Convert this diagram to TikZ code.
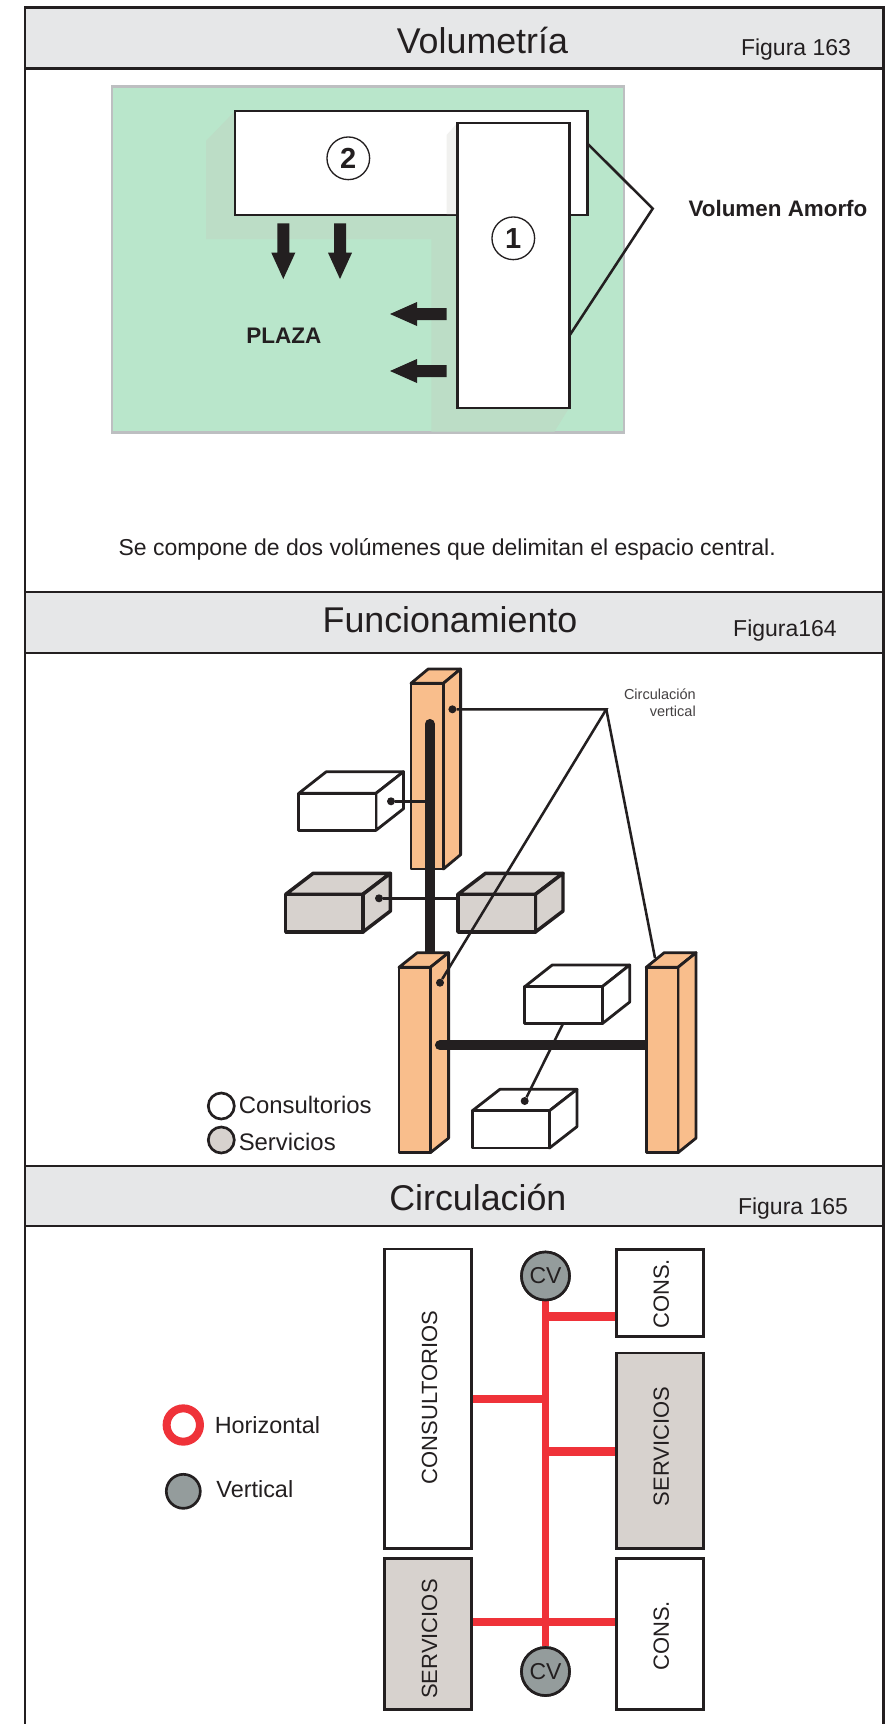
\documentclass[tikz,border=0pt]{standalone}
\usepackage{fontspec}
\setmainfont{Liberation Sans}
\definecolor{ink}{HTML}{231F20}
\definecolor{headfill}{HTML}{E6E7E8}
\definecolor{plaza}{HTML}{B9E6CB}
\definecolor{plazaedge}{HTML}{BDBFC1}
\definecolor{plazashadow}{HTML}{BCDDC6}
\definecolor{softshadow}{HTML}{F1F1EF}
\definecolor{column}{HTML}{F9BE8C}
\definecolor{service}{HTML}{D7D2CE}
\definecolor{redline}{HTML}{EF3239}
\definecolor{cvgray}{HTML}{949C9C}
\newcommand{\pxf}[1]{\pgfmathsetmacro\fsz{#1*0.75}\fontsize{\fsz}{\fsz}\selectfont}
% name,x1,y1,x2,y2,style,text
\newcommand{\pxbox}[7]{\node[#6,minimum width={(#4-#2)*.75pt},minimum height={(#5-#3)*.75pt}] (#1) at ({(#2+#4)/2},{(#3+#5)/2}) {#7};}
% name,x1,y1,x2,y2,xright,ytop,fill
\newcommand{\cube}[8]{%
  \draw[cubeline,fill=#8] (#2,#3)--({#2+#6-#4},#7)--(#6,#7)--(#4,#3)--cycle;
  \draw[cubeline,fill=#8] (#4,#3)--(#6,#7)--(#6,{#5-#3+#7})--(#4,#5)--cycle;
  \pxbox{#1}{#2}{#3}{#4}{#5}{cubeline,inner sep=0pt,fill=#8}{}}
\tikzset{
  txt/.style={text=ink,inner sep=0pt,align=center},
  frameline/.style={draw=ink,line width=2.2pt},
  headbox/.style={fill=headfill,draw=ink,line width=2.2pt,inner sep=0pt},
  plainbox/.style={fill=white,draw=ink,line width=2.2pt,inner sep=0pt},
  servbox/.style={fill=service,draw=ink,line width=2.2pt,inner sep=0pt},
  cubeline/.style={draw=ink,line width=2.1pt,line join=round},
  thin link/.style={draw=ink,line width=1.9pt},
  thick link/.style={draw=ink,line width=7.6pt},
  dotnode/.style={circle,fill=ink,inner sep=0pt,minimum size=6pt},
  redlink/.style={draw=redline,line width=6.2pt},
  redmain/.style={draw=redline,line width=5.5pt},
  numcirc/.style={circle,draw=ink,fill=white,line width=1pt,inner sep=0pt,minimum size=32pt,text=ink,font=\pxf{29}\bfseries},
  cvnode/.style={circle,draw=ink,fill=cvgray,line width=2pt,inner sep=0pt,minimum size=36pt,text=ink,font=\pxf{23}},
  blockarrow/.style={fill=ink,draw=none},
}
\begin{document}
\begin{tikzpicture}[x=0.75pt,y=-0.75pt]
\useasboundingbox (0,0) rectangle (890,1724);
\fill[white] (0,0) rectangle (890,1724);
% headers
\pxbox{headA}{25}{7.5}{883.3}{68.3}{headbox}{}
\pxbox{headB}{25}{592}{883.3}{653}{headbox}{}
\pxbox{headC}{25}{1166}{883.3}{1226}{headbox}{}
\draw[frameline] (25,7.5) -- (25,1724);
\draw[frameline] (883.3,7.5) -- (883.3,1724);
\node[txt,font=\pxf{35.8}] (titleA) at (482.4,40) {Volumetría};
\node[txt,font=\pxf{23}] (figA) at (796,49.6) {Figura 163};
\node[txt,font=\pxf{35.8}] (titleB) at (450,620) {Funcionamiento};
\node[txt,font=\pxf{23}] (figB) at (785,631) {Figura164};
\node[txt,font=\pxf{35.8}] (titleC) at (477.9,1197) {Circulación};
\node[txt,font=\pxf{23}] (figC) at (793,1209) {Figura 165};
% Volumetria
\pxbox{plazaRect}{111.8}{86.5}{623.7}{432.5}{fill=plaza,draw=plazaedge,line width=1.8pt}{}
\fill[plazashadow] (235,111)--(206,141)--(206,239)--(431.3,239)--(431.3,431.5)--(554.5,431.5)--(569,408)--(459,300)--(459,215)--(235,215)--cycle;
\pxbox{volTwo}{235}{111}{587.4}{215}{plainbox}{}
\fill[softshadow] (457.4,123)--(446.6,135)--(446.6,214)--(457.4,214)--cycle;
\pxbox{volOne}{457.4}{123}{569.2}{408}{plainbox}{}
\node[numcirc] (numTwo) at (348.3,158.3) {2};
\node[numcirc] (numOne) at (513.3,238.3) {1};
\fill[blockarrow] (277.3,223.3)--(289.3,223.3)--(289.3,252.7)--(295.3,252.7)--(283.3,279)--(271.3,252.7)--(277.3,252.7)--cycle;
\fill[blockarrow] (334,223.3)--(346,223.3)--(346,252.7)--(352,252.7)--(340,279)--(328,252.7)--(334,252.7)--cycle;
\fill[blockarrow] (446.6,308)--(446.6,320)--(417,320)--(417,326)--(390,314)--(417,302)--(417,308)--cycle;
\fill[blockarrow] (446.6,365)--(446.6,377)--(417,377)--(417,383)--(390,371)--(417,359)--(417,365)--cycle;
\node[txt,font=\pxf{22.5}\bfseries] (plazaLabel) at (283.8,335.6) {PLAZA};
\node[txt,font=\pxf{22.4}\bfseries] (amorfo) at (778,208) {Volumen Amorfo};
\coordinate (amorfoApex) at (652.7,208.6);
\coordinate (amorfoTop) at (587.4,143.5);
\coordinate (amorfoLow) at (569.2,336);
\draw[thin link,line join=miter] (amorfoTop) -- (amorfoApex) -- (amorfoLow);
\node[txt,font=\pxf{23}] (caption) at (447.2,549) {Se compone de dos volúmenes que delimitan el espacio central.};
% Funcionamiento
\cube{colA}{411}{683.3}{443.4}{869}{460.6}{669}{column}
\cube{whiteA}{298.8}{793.3}{376}{830.3}{403.5}{771.7}{white}
\cube{grayA}{285.7}{894.3}{362.9}{932}{390.4}{873.3}{service,line width=2.6pt}
\cube{grayB}{457.9}{894.3}{535.4}{932}{563}{873.3}{service,line width=2.6pt}
\cube{whiteB}{524.7}{986.7}{602.2}{1023.7}{629.7}{965}{white}
\cube{whiteC}{472.4}{1110.7}{549.5}{1148}{577}{1089.3}{white}
\coordinate (thickTop) at (429.7,724);
\coordinate (thickLow) at (429.7,960);
\node[dotnode] (dotWhiteA) at (391,801.3) {};
\node[dotnode] (dotGrayA) at (379,898.3) {};
\coordinate (onThick) at (426,801.3);
\draw[thin link] (dotWhiteA) -- (onThick);
\draw[thin link] (dotGrayA) -- (grayB.west |- dotGrayA);
\draw[thick link,line cap=round] (thickTop) -- (thickLow);
\node[dotnode] (dotWhiteC) at (524.7,1101) {};
\coordinate (whiteBlow) at (563,1023.7);
\draw[thin link] (whiteBlow) -- (dotWhiteC);
\cube{colB}{399}{967.3}{430.3}{1152.7}{448.6}{952.7}{column}
\coordinate (hThickL) at (440,1045.3);
\coordinate (hThickR) at (650,1045.3);
\draw[thick link,line cap=round] (hThickL) -- (hThickR);
\cube{colC}{646.2}{967.3}{678}{1152.7}{696}{952.7}{column}
\coordinate (apex) at (606.3,709.3);
\node[dotnode] (dotColA) at (452.4,709.3) {};
\node[dotnode] (dotColB) at (440,982.7) {};
\coordinate (colCtop) at (655,958);
\draw[thin link] (dotColA) -- (apex) -- (dotColB);
\draw[thin link] (apex) -- (colCtop);
\node[txt,text=ink!85,font=\pxf{14.5},align=right,anchor=east] (cvLabel) at (696,702.5) {Circulación\\[2pt]vertical};
\node[circle,draw=ink,fill=white,line width=2pt,minimum size=19.5pt,inner sep=0pt] (legWhite) at (221.3,1106) {};
\node[circle,draw=ink,fill=service,line width=2pt,minimum size=19.5pt,inner sep=0pt] (legGray) at (221.3,1140) {};
\node[txt,anchor=west,font=\pxf{23.9}] (legCons) at (238.5,1105) {Consultorios};
\node[txt,anchor=west,font=\pxf{23.9}] (legServ) at (238.5,1141.5) {Servicios};
% Circulacion
\node[cvnode] (cvTop) at (545.5,1276) {CV};
\node[cvnode] (cvLow) at (545.5,1671.5) {CV};
\pxbox{consulBox}{384.2}{1249}{471.6}{1548.5}{plainbox}{}
\pxbox{servLeft}{384.2}{1558.6}{471.6}{1709.6}{servbox}{}
\pxbox{consTop}{616.3}{1249.6}{703.2}{1336.3}{plainbox}{}
\pxbox{servRight}{616.3}{1353}{703.2}{1548.5}{servbox}{}
\pxbox{consLow}{616.3}{1558.6}{703.2}{1709.6}{plainbox}{}
\draw[redmain] (cvTop) -- (cvLow);
\coordinate (jA) at (545.5,1316.6);
\coordinate (jB) at (545.5,1398.8);
\coordinate (jC) at (545.5,1451.4);
\coordinate (jD) at (545.5,1622);
\draw[redlink] (jA) -- (consTop.west |- jA);
\draw[redlink] (jB) -- (consulBox.east |- jB);
\draw[redlink] (jC) -- (servRight.west |- jC);
\draw[redlink] (servLeft.east |- jD) -- (consLow.west |- jD);
\node[cvnode] at (cvTop) {CV};
\node[cvnode] at (cvLow) {CV};
\node[txt,rotate=90,font=\pxf{22}] (tConsul) at (429.6,1397.4) {CONSULTORIOS};
\node[txt,rotate=90,font=\pxf{22}] (tServL) at (429.6,1639) {SERVICIOS};
\node[txt,rotate=90,font=\pxf{22}] (tConsT) at (661.2,1294) {CONS.};
\node[txt,rotate=90,font=\pxf{22}] (tServR) at (661.2,1446.6) {SERVICIOS};
\node[txt,rotate=90,font=\pxf{22}] (tConsL) at (661.2,1635.7) {CONS.};
\node[circle,draw=redline,fill=white,line width=6pt,minimum size=25pt,inner sep=0pt] (legRed) at (183.3,1425) {};
\node[circle,draw=ink,fill=cvgray,line width=2pt,minimum size=25.5pt,inner sep=0pt] (legCV) at (183.3,1491.3) {};
\node[txt,anchor=west,font=\pxf{23.4}] (legH) at (214.5,1425) {Horizontal};
\node[txt,anchor=west,font=\pxf{23.4}] (legV) at (216.2,1489) {Vertical};
\end{tikzpicture}
\end{document}
